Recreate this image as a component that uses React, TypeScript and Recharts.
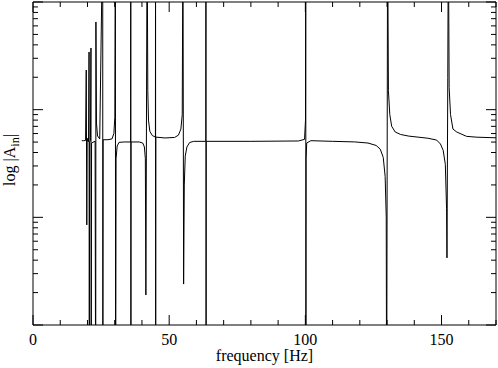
import React from "react";
import { LineChart, Line, XAxis, YAxis, ReferenceArea } from "recharts";

// frequency [Hz] and |A_in|
const freq = [
  17.9, 18.6, 19.3, 19.55, 19.75, 19.9, 20.15, 20.4, 20.58, 20.66, 20.8, 21.1, 21.28, 21.36, 21.5,
  22.8, 23.02, 23.1, 23.3, 23.7, 24.5, 25.6, 25.64, 25.75, 27.5, 29.0, 29.7, 30.05, 30.25, 30.33,
  30.5, 30.9, 31.6, 33.5, 35.85, 35.9, 35.95, 36.0, 39.0, 40.3, 40.9, 41.25, 41.45, 41.9, 42.15,
  42.4, 42.9, 43.8, 44.95, 45.0, 45.04, 45.1, 48.5, 52.0, 53.4, 54.3, 54.8, 55.05, 55.3, 55.55,
  55.9, 56.5, 57.5, 59.0, 63.45, 63.5, 63.55, 63.6, 80.0, 97.5, 99.7, 100.05, 100.15, 100.2, 100.28,
  100.5, 102.0, 110.0, 118.0, 123.0, 126.0, 127.5, 128.6, 129.3, 129.7, 129.85, 130.2, 130.5, 131.0,
  131.7, 133.0, 135.0, 138.0, 141.0, 145.0, 148.2, 149.6, 150.6, 151.4, 151.85, 152.0, 152.3, 152.5,
  152.8, 153.3, 154.2, 155.6, 157.5, 159.2, 163.0, 170.0,
];
const amp = [
  0.0515, 0.0515, 0.0518, 0.233, 0.0085, 0.05, 0.0545, 0.0505, 0.343, 0.0001, 0.05, 0.052, 0.374, 0.0001, 0.049,
  0.051, 0.0001, 0.652, 0.075, 0.057, 0.0535, 5, 0.0001, 0.0526, 0.0526, 0.0535, 0.06, 0.085, 5, 0.0001,
  0.035, 0.046, 0.0497, 0.0501, 0.0501, 5, 0.0001, 0.0501, 0.0501, 0.049, 0.045, 0.035, 0.0019, 5, 0.15,
  0.08, 0.063, 0.0575, 0.0556, 5, 0.0001, 0.0556, 0.0546, 0.0552, 0.058, 0.066, 0.09, 5, 0.0024, 0.02,
  0.037, 0.045, 0.0495, 0.0508, 0.0508, 5, 0.0001, 0.0508, 0.0508, 0.0512, 0.053, 0.08, 5, 0.0001, 0.035,
  0.049, 0.0515, 0.0508, 0.0502, 0.049, 0.0465, 0.043, 0.036, 0.024, 0.01, 0.0001, 5, 0.15, 0.09,
  0.07, 0.062, 0.0588, 0.0568, 0.0557, 0.0543, 0.0522, 0.048, 0.042, 0.031, 0.012, 0.0042, 0.2, 5,
  0.16, 0.09, 0.066, 0.062, 0.059, 0.0565, 0.0555, 0.0548,
];

const xTicks = [0, 10, 20, 30, 40, 50, 60, 70, 80, 90, 100, 110, 120, 130, 140, 150, 160, 170];
const xLabels = [0, 50, 100, 150];
const yTicks = [
  0.001, 0.002, 0.003, 0.004, 0.005, 0.006, 0.007, 0.008, 0.009,
  0.01, 0.02, 0.03, 0.04, 0.05, 0.06, 0.07, 0.08, 0.09,
  0.1, 0.2, 0.3, 0.4, 0.5, 0.6, 0.7, 0.8, 0.9, 1,
];

const data = freq.map((f, i) => ({ f, a: amp[i] }));

const LEFT = 33;
const RIGHT = 496;
const TOP = 2;
const BOTTOM = 325;
const font = '"Liberation Serif", "Times New Roman", serif';

function XTick(props: any) {
  const { x, payload } = props;
  const v = payload.value;
  const major = xLabels.includes(v);
  const len = major ? 10 : 5;
  return (
    <g>
      <line x1={x} x2={x} y1={BOTTOM} y2={BOTTOM - len} stroke="#000" />
      <line x1={x} x2={x} y1={TOP} y2={TOP + len} stroke="#000" />
      {major && (
        <text x={x} y={BOTTOM + 20} textAnchor="middle" fontFamily={font} fontSize={16} fill="#000">
          {v}
        </text>
      )}
    </g>
  );
}

function YTick(props: any) {
  const { y, payload } = props;
  const lg = Math.log10(payload.value);
  const major = Math.abs(lg - Math.round(lg)) < 1e-6;
  const len = major ? 10 : 5;
  return (
    <g>
      <line x1={LEFT} x2={LEFT + len} y1={y} y2={y} stroke="#000" />
      <line x1={RIGHT} x2={RIGHT - len} y1={y} y2={y} stroke="#000" />
    </g>
  );
}

const xLabel = () => (
  <text x={(LEFT + RIGHT) / 2} y={361} textAnchor="middle" fontFamily={font} fontSize={16} fill="#000">
    frequency [Hz]
  </text>
);

const yLabel = () => (
  <text
    x={15}
    y={160}
    transform="rotate(-90, 15, 160)"
    textAnchor="middle"
    fontFamily={font}
    fontSize={16}
    fill="#000"
  >
    log |A
    <tspan fontSize={12} dy={4}>in</tspan>
    <tspan dy={-4}>|</tspan>
  </text>
);

export default function App() {
  return (
    <div style={{ position: "absolute", left: 0, top: 0, background: "#fff" }}>
      <LineChart width={498} height={368} data={data} margin={{ top: TOP, right: 498 - RIGHT, bottom: 0, left: 0 }}>
        <XAxis
          dataKey="f"
          type="number"
          domain={[0, 170]}
          ticks={xTicks}
          interval={0}
          height={368 - BOTTOM}
          tick={<XTick />}
          tickLine={false}
          axisLine={false}
          label={xLabel}
        />
        <YAxis
          scale="log"
          type="number"
          domain={[0.001, 1]}
          allowDataOverflow
          ticks={yTicks}
          interval={0}
          width={LEFT}
          tick={<YTick />}
          tickLine={false}
          axisLine={false}
          label={yLabel}
        />
        <ReferenceArea x1={0} x2={170} y1={0.001} y2={1} fill="none" stroke="#000" strokeWidth={1} />
        <Line
          dataKey="a"
          type="linear"
          stroke="#000"
          strokeWidth={1}
          dot={false}
          isAnimationActive={false}
        />
      </LineChart>
    </div>
  );
}
